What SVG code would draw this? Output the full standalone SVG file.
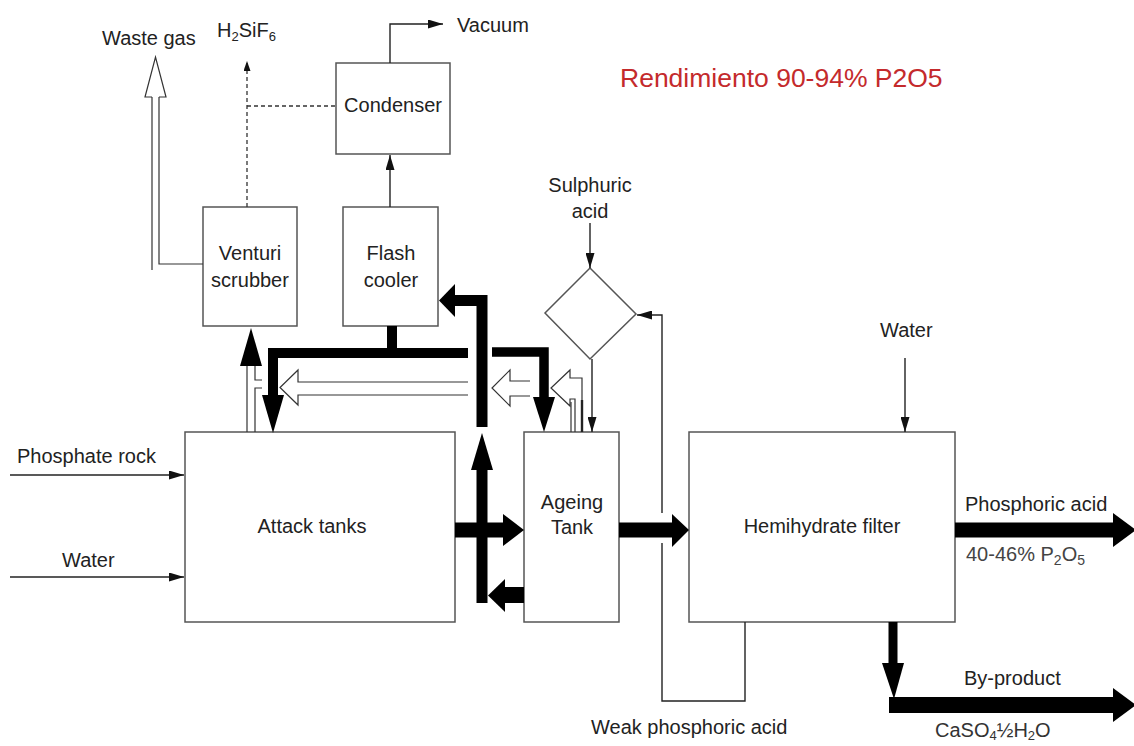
<svg xmlns="http://www.w3.org/2000/svg" width="1134" height="746" viewBox="0 0 1134 746">
<style>
.box{fill:#fff;stroke:#555;stroke-width:1.5}
.t{font-family:"Liberation Sans",Arial,sans-serif;font-size:20px;fill:#222}
.c{text-anchor:middle}
.ln{fill:none;stroke:#222;stroke-width:1.4}
.dash{fill:none;stroke:#333;stroke-width:1.3;stroke-dasharray:4,3}
.thick{fill:none;stroke:#000;stroke-linejoin:miter;stroke-linecap:butt}
.hd{fill:#000}
.open{fill:none;stroke:#333;stroke-width:1.2}
</style>
<defs>
<marker id="ah" markerUnits="userSpaceOnUse" markerWidth="15" markerHeight="9" refX="15" refY="4.5" orient="auto"><path d="M0,0 L15,4.5 L0,9 z" fill="#111"/></marker>
<marker id="ahs" markerUnits="userSpaceOnUse" markerWidth="10" markerHeight="7" refX="10" refY="3.5" orient="auto"><path d="M0,0 L10,3.5 L0,7 z" fill="#111"/></marker>
</defs>
<rect width="1134" height="746" fill="#fff"/>

<g id="attack-tanks"><rect class="box" x="185" y="432" width="270" height="190"/><text class="t c" x="312" y="533">Attack tanks</text></g>
<g id="ageing-tank"><rect class="box" x="524" y="432" width="95" height="190"/><text class="t c" x="572" y="509">Ageing</text><text class="t c" x="572" y="534">Tank</text></g>
<g id="hemihydrate-filter"><rect class="box" x="689" y="432" width="266" height="190"/><text class="t c" x="822" y="533">Hemihydrate filter</text></g>
<g id="venturi-scrubber"><rect class="box" x="203" y="207" width="94" height="119"/><text class="t c" x="250" y="260">Venturi</text><text class="t c" x="250" y="287">scrubber</text></g>
<g id="flash-cooler"><rect class="box" x="343" y="207" width="95" height="119"/><text class="t c" x="391" y="260">Flash</text><text class="t c" x="391" y="287">cooler</text></g>
<g id="condenser"><rect class="box" x="336" y="63" width="114" height="91"/><text class="t c" x="393" y="112">Condenser</text></g>
<g id="mixer"><polygon class="box" points="590,268 636,314 590,359 545,313"/></g>

<g id="connectors">
<path class="ln" d="M10,475 H184" marker-end="url(#ah)"/>
<path class="ln" d="M10,577 H184" marker-end="url(#ah)"/>
<path class="ln" d="M590,223 V268" marker-end="url(#ah)"/>
<path class="ln" d="M592,359 V432" marker-end="url(#ah)"/>
<path class="ln" d="M905,358 V432" marker-end="url(#ah)"/>
<path class="ln" d="M390,207 V155" marker-end="url(#ah)"/>
<path class="ln" d="M390,63 V24 H443" marker-end="url(#ah)"/>
<path class="ln" d="M745,622 V701 H662 V543 M662,513 V315 H637" marker-end="url(#ah)"/>
<path class="dash" d="M247,207 V61" marker-end="url(#ahs)"/>
<path class="dash" d="M247,106 H336"/>
<path class="open" d="M152,270 V97"/>
<path class="open" d="M159,97 V264 H203"/>
<polyline class="open" points="152,97 145,97 155.5,57 166,97 159,97"/>
<polygon class="hd" points="240,366 262,366 251,328"/>
<path class="open" d="M247,366 V432"/>
<path class="open" d="M255,366 V380 H262 M262,388 H255 V432"/>
<polyline class="open" points="468,382 298,382 298,370 280,387.5 298,405 298,395 468,395"/>
<polyline class="open" points="530,381 510,381 510,370 492,388 510,406 510,396 530,396"/>
<polyline class="open" points="582,432 582,378 570,378 570,370 551,388 570,406 570,399 575,399 575,432"/>
<path class="open" d="M571,402 V432"/>
<path class="ln" d="M582,400 V432" style="stroke-width:2.4"/>
<path class="thick" d="M392,326 V353" stroke-width="10"/>
<path class="thick" d="M468,353 H273 V396" stroke-width="10"/>
<polygon class="hd" points="262,395 284,395 273,433"/>
<path class="thick" d="M492,352 H544 V398" stroke-width="9.5"/>
<polygon class="hd" points="533,397 555,397 544,432"/>
<path class="thick" d="M482,427 V300.5 H455" stroke-width="11"/>
<polygon class="hd" points="455,284 455,317 439,300.5"/>
<path class="thick" d="M482,603 V469" stroke-width="11"/>
<polygon class="hd" points="471,470 493,470 482,433"/>
<path class="thick" d="M455,530 H504" stroke-width="15"/>
<polygon class="hd" points="503,514 503,546 524,530"/>
<path class="thick" d="M524,595 H504" stroke-width="16"/>
<polygon class="hd" points="505,579 505,612 488,595.5"/>
<path class="thick" d="M619,530 H673" stroke-width="15"/>
<polygon class="hd" points="672,514 672,547 689,530"/>
<path class="thick" d="M955,530 H1114" stroke-width="15"/>
<polygon class="hd" points="1113,513 1113,547 1136,530"/>
<path class="thick" d="M893,622 V664" stroke-width="9"/>
<polygon class="hd" points="882,663 904,663 894,699"/>
<path class="thick" d="M889,705 H1114" stroke-width="16"/>
<polygon class="hd" points="1113,688 1113,722 1136,705"/>
</g>

<g id="labels">
<text class="t" x="102" y="45">Waste gas</text>
<text class="t" x="217" y="37" font-size="18">H<tspan font-size="13" dy="4">2</tspan><tspan dy="-4">SiF</tspan><tspan font-size="13" dy="4">6</tspan></text>
<text class="t" x="457" y="32">Vacuum</text>
<text class="t" x="620" y="87" style="font-size:26.5px;fill:#c42a2c">Rendimiento 90-94% P2O5</text>
<text class="t c" x="590" y="192">Sulphuric</text>
<text class="t c" x="590" y="218">acid</text>
<text class="t" x="880" y="337">Water</text>
<text class="t" x="17" y="463">Phosphate rock</text>
<text class="t" x="62" y="567">Water</text>
<text class="t" x="965" y="511">Phosphoric acid</text>
<text class="t" x="966" y="561" style="fill:#444">40-46% P<tspan font-size="14" dy="4">2</tspan><tspan dy="-4">O</tspan><tspan font-size="14" dy="4">5</tspan></text>
<text class="t" x="964" y="685">By-product</text>
<text class="t" x="935" y="737" style="fill:#333">CaSO<tspan font-size="13" dy="3">4</tspan><tspan dy="-3">½H</tspan><tspan font-size="13" dy="3">2</tspan><tspan dy="-3">O</tspan></text>
<text class="t" x="591" y="734">Weak phosphoric acid</text>
</g>
</svg>
